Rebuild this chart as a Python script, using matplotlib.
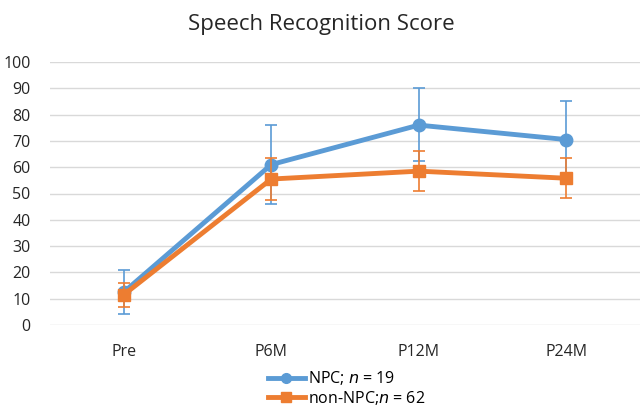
import matplotlib
matplotlib.use("Agg")
import matplotlib.pyplot as plt
from matplotlib.lines import Line2D

plt.rcParams['font.family'] = ['Open Sans', 'DejaVu Sans']

timepoints = ['Pre', 'P6M', 'P12M', 'P24M']

npc_mean = [12.5, 61, 76, 70.5]
npc_err_low = [8.5, 15, 13.5, 14.5]
npc_err_high = [8.5, 15, 14, 14.5]

non_npc_mean = [11.5, 55.5, 58.5, 55.8]
non_npc_err_low = [4.5, 8, 7.5, 7.5]
non_npc_err_high = [4.5, 8, 7.5, 7.8]

blue = '#5B9BD5'
orange = '#ED7D31'

fig = plt.figure(figsize=(6.42, 4.08), dpi=100)
ax = fig.add_axes([50 / 642, 1 - 325 / 408, 590 / 642, 263 / 408])

x = list(range(len(timepoints)))

ax.errorbar(x, npc_mean, yerr=[npc_err_low, npc_err_high], color=blue,
            lw=3.5, marker='o', ms=9, elinewidth=1.2, capsize=4, capthick=1.2,
            zorder=3)
ax.errorbar(x, non_npc_mean, yerr=[non_npc_err_low, non_npc_err_high], color=orange,
            lw=3.5, marker='s', ms=9, elinewidth=1.2, capsize=4, capthick=1.2,
            zorder=4)

ax.set_xlim(-0.5, 3.5)
ax.set_ylim(0, 100)
ax.set_yticks(range(0, 101, 10))
ax.set_xticks(x)
ax.set_xticklabels(timepoints)
ax.grid(axis='y', color='#D9D9D9', lw=1)
ax.set_axisbelow(True)
for s in ax.spines.values():
    s.set_visible(False)
ax.tick_params(length=0, labelsize=11.5, colors='#262626')
ax.tick_params(axis='x', pad=14)
ax.tick_params(axis='y', pad=14)

fig.suptitle('Speech Recognition Score', y=0.965, fontsize=16, color='#262626')

handles = [
    Line2D([], [], color=blue, lw=3.5, marker='o', ms=7),
    Line2D([], [], color=orange, lw=3.5, marker='s', ms=7),
]
labels = [r'NPC; $n$ = 19', r'non-NPC;$n$ = 62']
fig.legend(handles, labels, loc='center', bbox_to_anchor=(0.54, 1 - 388 / 408),
           frameon=False, fontsize=11.5, handlelength=2.3, labelspacing=0.1,
           handletextpad=0.2, borderpad=0)

fig.savefig('out.png', dpi=100)
